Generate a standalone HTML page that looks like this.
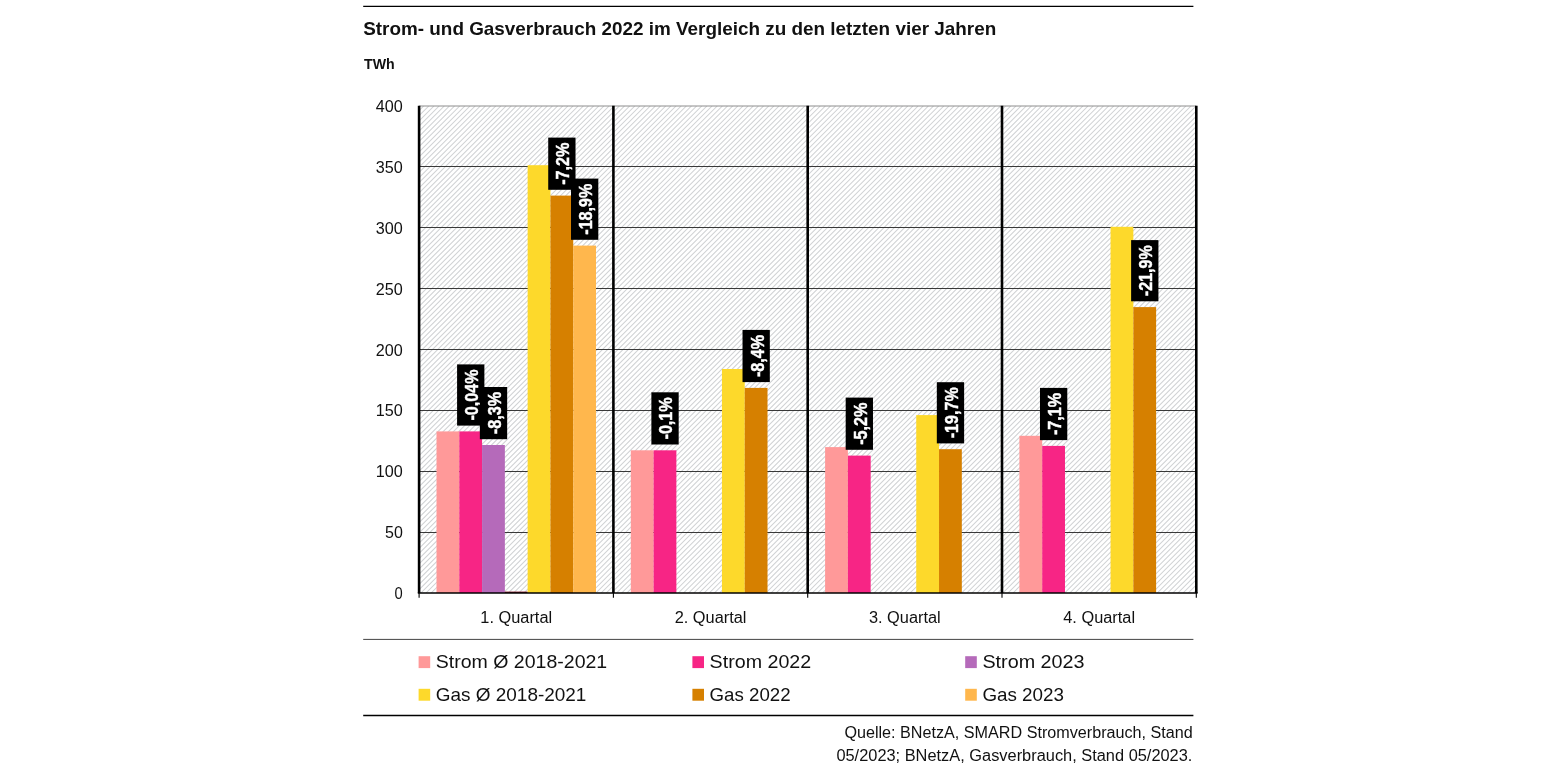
<!DOCTYPE html>
<html lang="de"><head><meta charset="utf-8"><title>Strom- und Gasverbrauch 2022</title>
<style>html,body{margin:0;padding:0;background:#fff;overflow:hidden}body{width:1545px;height:775px}</style></head>
<body>
<svg width="1545" height="775" viewBox="0 0 1545 775" style="display:block">
<rect width="1545" height="775" fill="#fff"/>
<line x1="363.2" y1="6.4" x2="1193.4" y2="6.4" stroke="#000" stroke-width="1.4"/>
<text x="363.2" y="35.3" font-family="Liberation Sans, Arial, sans-serif" font-size="19" font-weight="700" fill="#111" textLength="633" lengthAdjust="spacingAndGlyphs">Strom- und Gasverbrauch 2022 im Vergleich zu den letzten vier Jahren</text>
<text x="364" y="68.9" font-family="Liberation Sans, Arial, sans-serif" font-size="14.2" font-weight="700" fill="#111" textLength="30.7" lengthAdjust="spacingAndGlyphs">TWh</text>
<clipPath id="pc"><rect x="419.1" y="106.0" width="777.2" height="487.0"/></clipPath>
<path clip-path="url(#pc)" d="M-73.60 593.0l487 -487M-68.45 593.0l487 -487M-63.30 593.0l487 -487M-58.15 593.0l487 -487M-53.00 593.0l487 -487M-47.85 593.0l487 -487M-42.70 593.0l487 -487M-37.55 593.0l487 -487M-32.40 593.0l487 -487M-27.25 593.0l487 -487M-22.10 593.0l487 -487M-16.95 593.0l487 -487M-11.80 593.0l487 -487M-6.65 593.0l487 -487M-1.50 593.0l487 -487M3.65 593.0l487 -487M8.80 593.0l487 -487M13.95 593.0l487 -487M19.10 593.0l487 -487M24.25 593.0l487 -487M29.40 593.0l487 -487M34.55 593.0l487 -487M39.70 593.0l487 -487M44.85 593.0l487 -487M50.00 593.0l487 -487M55.15 593.0l487 -487M60.30 593.0l487 -487M65.45 593.0l487 -487M70.60 593.0l487 -487M75.75 593.0l487 -487M80.90 593.0l487 -487M86.05 593.0l487 -487M91.20 593.0l487 -487M96.35 593.0l487 -487M101.50 593.0l487 -487M106.65 593.0l487 -487M111.80 593.0l487 -487M116.95 593.0l487 -487M122.10 593.0l487 -487M127.25 593.0l487 -487M132.40 593.0l487 -487M137.55 593.0l487 -487M142.70 593.0l487 -487M147.85 593.0l487 -487M153.00 593.0l487 -487M158.15 593.0l487 -487M163.30 593.0l487 -487M168.45 593.0l487 -487M173.60 593.0l487 -487M178.75 593.0l487 -487M183.90 593.0l487 -487M189.05 593.0l487 -487M194.20 593.0l487 -487M199.35 593.0l487 -487M204.50 593.0l487 -487M209.65 593.0l487 -487M214.80 593.0l487 -487M219.95 593.0l487 -487M225.10 593.0l487 -487M230.25 593.0l487 -487M235.40 593.0l487 -487M240.55 593.0l487 -487M245.70 593.0l487 -487M250.85 593.0l487 -487M256.00 593.0l487 -487M261.15 593.0l487 -487M266.30 593.0l487 -487M271.45 593.0l487 -487M276.60 593.0l487 -487M281.75 593.0l487 -487M286.90 593.0l487 -487M292.05 593.0l487 -487M297.20 593.0l487 -487M302.35 593.0l487 -487M307.50 593.0l487 -487M312.65 593.0l487 -487M317.80 593.0l487 -487M322.95 593.0l487 -487M328.10 593.0l487 -487M333.25 593.0l487 -487M338.40 593.0l487 -487M343.55 593.0l487 -487M348.70 593.0l487 -487M353.85 593.0l487 -487M359.00 593.0l487 -487M364.15 593.0l487 -487M369.30 593.0l487 -487M374.45 593.0l487 -487M379.60 593.0l487 -487M384.75 593.0l487 -487M389.90 593.0l487 -487M395.05 593.0l487 -487M400.20 593.0l487 -487M405.35 593.0l487 -487M410.50 593.0l487 -487M415.65 593.0l487 -487M420.80 593.0l487 -487M425.95 593.0l487 -487M431.10 593.0l487 -487M436.25 593.0l487 -487M441.40 593.0l487 -487M446.55 593.0l487 -487M451.70 593.0l487 -487M456.85 593.0l487 -487M462.00 593.0l487 -487M467.15 593.0l487 -487M472.30 593.0l487 -487M477.45 593.0l487 -487M482.60 593.0l487 -487M487.75 593.0l487 -487M492.90 593.0l487 -487M498.05 593.0l487 -487M503.20 593.0l487 -487M508.35 593.0l487 -487M513.50 593.0l487 -487M518.65 593.0l487 -487M523.80 593.0l487 -487M528.95 593.0l487 -487M534.10 593.0l487 -487M539.25 593.0l487 -487M544.40 593.0l487 -487M549.55 593.0l487 -487M554.70 593.0l487 -487M559.85 593.0l487 -487M565.00 593.0l487 -487M570.15 593.0l487 -487M575.30 593.0l487 -487M580.45 593.0l487 -487M585.60 593.0l487 -487M590.75 593.0l487 -487M595.90 593.0l487 -487M601.05 593.0l487 -487M606.20 593.0l487 -487M611.35 593.0l487 -487M616.50 593.0l487 -487M621.65 593.0l487 -487M626.80 593.0l487 -487M631.95 593.0l487 -487M637.10 593.0l487 -487M642.25 593.0l487 -487M647.40 593.0l487 -487M652.55 593.0l487 -487M657.70 593.0l487 -487M662.85 593.0l487 -487M668.00 593.0l487 -487M673.15 593.0l487 -487M678.30 593.0l487 -487M683.45 593.0l487 -487M688.60 593.0l487 -487M693.75 593.0l487 -487M698.90 593.0l487 -487M704.05 593.0l487 -487M709.20 593.0l487 -487M714.35 593.0l487 -487M719.50 593.0l487 -487M724.65 593.0l487 -487M729.80 593.0l487 -487M734.95 593.0l487 -487M740.10 593.0l487 -487M745.25 593.0l487 -487M750.40 593.0l487 -487M755.55 593.0l487 -487M760.70 593.0l487 -487M765.85 593.0l487 -487M771.00 593.0l487 -487M776.15 593.0l487 -487M781.30 593.0l487 -487M786.45 593.0l487 -487M791.60 593.0l487 -487M796.75 593.0l487 -487M801.90 593.0l487 -487M807.05 593.0l487 -487M812.20 593.0l487 -487M817.35 593.0l487 -487M822.50 593.0l487 -487M827.65 593.0l487 -487M832.80 593.0l487 -487M837.95 593.0l487 -487M843.10 593.0l487 -487M848.25 593.0l487 -487M853.40 593.0l487 -487M858.55 593.0l487 -487M863.70 593.0l487 -487M868.85 593.0l487 -487M874.00 593.0l487 -487M879.15 593.0l487 -487M884.30 593.0l487 -487M889.45 593.0l487 -487M894.60 593.0l487 -487M899.75 593.0l487 -487M904.90 593.0l487 -487M910.05 593.0l487 -487M915.20 593.0l487 -487M920.35 593.0l487 -487M925.50 593.0l487 -487M930.65 593.0l487 -487M935.80 593.0l487 -487M940.95 593.0l487 -487M946.10 593.0l487 -487M951.25 593.0l487 -487M956.40 593.0l487 -487M961.55 593.0l487 -487M966.70 593.0l487 -487M971.85 593.0l487 -487M977.00 593.0l487 -487M982.15 593.0l487 -487M987.30 593.0l487 -487M992.45 593.0l487 -487M997.60 593.0l487 -487M1002.75 593.0l487 -487M1007.90 593.0l487 -487M1013.05 593.0l487 -487M1018.20 593.0l487 -487M1023.35 593.0l487 -487M1028.50 593.0l487 -487M1033.65 593.0l487 -487M1038.80 593.0l487 -487M1043.95 593.0l487 -487M1049.10 593.0l487 -487M1054.25 593.0l487 -487M1059.40 593.0l487 -487M1064.55 593.0l487 -487M1069.70 593.0l487 -487M1074.85 593.0l487 -487M1080.00 593.0l487 -487M1085.15 593.0l487 -487M1090.30 593.0l487 -487M1095.45 593.0l487 -487M1100.60 593.0l487 -487M1105.75 593.0l487 -487M1110.90 593.0l487 -487M1116.05 593.0l487 -487M1121.20 593.0l487 -487M1126.35 593.0l487 -487M1131.50 593.0l487 -487M1136.65 593.0l487 -487M1141.80 593.0l487 -487M1146.95 593.0l487 -487M1152.10 593.0l487 -487M1157.25 593.0l487 -487M1162.40 593.0l487 -487M1167.55 593.0l487 -487M1172.70 593.0l487 -487M1177.85 593.0l487 -487M1183.00 593.0l487 -487M1188.15 593.0l487 -487M1193.30 593.0l487 -487" stroke="#D0D2D4" stroke-width="1.05" fill="none"/>
<line x1="419.1" y1="106.0" x2="1196.3" y2="106.0" stroke="#8e8e8e" stroke-width="1.1"/>
<line x1="419.1" y1="166.50" x2="1196.3" y2="166.50" stroke="#242424" stroke-width="0.9"/>
<line x1="419.1" y1="227.50" x2="1196.3" y2="227.50" stroke="#242424" stroke-width="0.9"/>
<line x1="419.1" y1="288.50" x2="1196.3" y2="288.50" stroke="#242424" stroke-width="0.9"/>
<line x1="419.1" y1="349.50" x2="1196.3" y2="349.50" stroke="#242424" stroke-width="0.9"/>
<line x1="419.1" y1="410.50" x2="1196.3" y2="410.50" stroke="#242424" stroke-width="0.9"/>
<line x1="419.1" y1="471.50" x2="1196.3" y2="471.50" stroke="#242424" stroke-width="0.9"/>
<line x1="419.1" y1="532.50" x2="1196.3" y2="532.50" stroke="#242424" stroke-width="0.9"/>
<rect x="436.50" y="431.4" width="22.79" height="161.60" fill="#FF9999"/>
<rect x="459.29" y="431.4" width="22.79" height="161.60" fill="#F72585"/>
<rect x="482.07" y="445.0" width="22.79" height="148.00" fill="#B56ABA"/>
<rect x="504.86" y="591.6" width="22.79" height="1.40" fill="#7A1020"/>
<rect x="527.64" y="165.2" width="22.79" height="427.80" fill="#FDD92B"/>
<rect x="550.43" y="195.6" width="22.79" height="397.40" fill="#D68000"/>
<rect x="573.21" y="245.6" width="22.79" height="347.40" fill="#FFB74D"/>
<rect x="630.80" y="450.3" width="22.79" height="142.70" fill="#FF9999"/>
<rect x="653.59" y="450.3" width="22.79" height="142.70" fill="#F72585"/>
<rect x="721.94" y="369.0" width="22.79" height="224.00" fill="#FDD92B"/>
<rect x="744.73" y="387.9" width="22.79" height="205.10" fill="#D68000"/>
<rect x="825.10" y="447.1" width="22.79" height="145.90" fill="#FF9999"/>
<rect x="847.89" y="455.6" width="22.79" height="137.40" fill="#F72585"/>
<rect x="916.24" y="415.1" width="22.79" height="177.90" fill="#FDD92B"/>
<rect x="939.03" y="449.2" width="22.79" height="143.80" fill="#D68000"/>
<rect x="1019.40" y="435.8" width="22.79" height="157.20" fill="#FF9999"/>
<rect x="1042.19" y="445.9" width="22.79" height="147.10" fill="#F72585"/>
<rect x="1110.54" y="226.8" width="22.79" height="366.20" fill="#FDD92B"/>
<rect x="1133.33" y="307.1" width="22.79" height="285.90" fill="#D68000"/>
<rect x="457.08" y="364.40" width="27.3" height="61.2" fill="#000"/>
<text transform="translate(478.08 420.50) rotate(-90)" font-family="Liberation Sans, Arial, sans-serif" font-size="18" font-weight="700" fill="#fff" stroke="#fff" stroke-width="0.45" textLength="51.0" lengthAdjust="spacingAndGlyphs">-0,04%</text>
<rect x="479.86" y="387.00" width="27.3" height="52.2" fill="#000"/>
<text transform="translate(500.86 434.20) rotate(-90)" font-family="Liberation Sans, Arial, sans-serif" font-size="18" font-weight="700" fill="#fff" stroke="#fff" stroke-width="0.45" textLength="42.2" lengthAdjust="spacingAndGlyphs">-8,3%</text>
<rect x="548.22" y="137.60" width="27.3" height="52.2" fill="#000"/>
<text transform="translate(569.22 184.80) rotate(-90)" font-family="Liberation Sans, Arial, sans-serif" font-size="18" font-weight="700" fill="#fff" stroke="#fff" stroke-width="0.45" textLength="42.2" lengthAdjust="spacingAndGlyphs">-7,2%</text>
<rect x="571.01" y="178.60" width="27.3" height="61.2" fill="#000"/>
<text transform="translate(592.01 234.70) rotate(-90)" font-family="Liberation Sans, Arial, sans-serif" font-size="18" font-weight="700" fill="#fff" stroke="#fff" stroke-width="0.45" textLength="51.0" lengthAdjust="spacingAndGlyphs">-18,9%</text>
<rect x="651.38" y="392.30" width="27.3" height="52.2" fill="#000"/>
<text transform="translate(672.38 439.50) rotate(-90)" font-family="Liberation Sans, Arial, sans-serif" font-size="18" font-weight="700" fill="#fff" stroke="#fff" stroke-width="0.45" textLength="42.2" lengthAdjust="spacingAndGlyphs">-0,1%</text>
<rect x="742.52" y="329.90" width="27.3" height="52.2" fill="#000"/>
<text transform="translate(763.52 377.10) rotate(-90)" font-family="Liberation Sans, Arial, sans-serif" font-size="18" font-weight="700" fill="#fff" stroke="#fff" stroke-width="0.45" textLength="42.2" lengthAdjust="spacingAndGlyphs">-8,4%</text>
<rect x="845.68" y="397.60" width="27.3" height="52.2" fill="#000"/>
<text transform="translate(866.68 444.80) rotate(-90)" font-family="Liberation Sans, Arial, sans-serif" font-size="18" font-weight="700" fill="#fff" stroke="#fff" stroke-width="0.45" textLength="42.2" lengthAdjust="spacingAndGlyphs">-5,2%</text>
<rect x="936.82" y="382.20" width="27.3" height="61.2" fill="#000"/>
<text transform="translate(957.82 438.30) rotate(-90)" font-family="Liberation Sans, Arial, sans-serif" font-size="18" font-weight="700" fill="#fff" stroke="#fff" stroke-width="0.45" textLength="51.0" lengthAdjust="spacingAndGlyphs">-19,7%</text>
<rect x="1039.98" y="387.90" width="27.3" height="52.2" fill="#000"/>
<text transform="translate(1060.98 435.10) rotate(-90)" font-family="Liberation Sans, Arial, sans-serif" font-size="18" font-weight="700" fill="#fff" stroke="#fff" stroke-width="0.45" textLength="42.2" lengthAdjust="spacingAndGlyphs">-7,1%</text>
<rect x="1131.12" y="240.10" width="27.3" height="61.2" fill="#000"/>
<text transform="translate(1152.12 296.20) rotate(-90)" font-family="Liberation Sans, Arial, sans-serif" font-size="18" font-weight="700" fill="#fff" stroke="#fff" stroke-width="0.45" textLength="51.0" lengthAdjust="spacingAndGlyphs">-21,9%</text>
<line x1="419.10" y1="105.7" x2="419.10" y2="593.0" stroke="#000" stroke-width="2.6"/>
<line x1="419.10" y1="593.0" x2="419.10" y2="597.8" stroke="#000" stroke-width="1.1"/>
<line x1="613.40" y1="105.7" x2="613.40" y2="593.0" stroke="#000" stroke-width="2.6"/>
<line x1="613.40" y1="593.0" x2="613.40" y2="597.8" stroke="#000" stroke-width="1.1"/>
<line x1="807.70" y1="105.7" x2="807.70" y2="593.0" stroke="#000" stroke-width="2.6"/>
<line x1="807.70" y1="593.0" x2="807.70" y2="597.8" stroke="#000" stroke-width="1.1"/>
<line x1="1002.00" y1="105.7" x2="1002.00" y2="593.0" stroke="#000" stroke-width="2.6"/>
<line x1="1002.00" y1="593.0" x2="1002.00" y2="597.8" stroke="#000" stroke-width="1.1"/>
<line x1="1196.30" y1="105.7" x2="1196.30" y2="593.0" stroke="#000" stroke-width="2.6"/>
<line x1="1196.30" y1="593.0" x2="1196.30" y2="597.8" stroke="#000" stroke-width="1.1"/>
<line x1="417.8" y1="593.0" x2="1197.6" y2="593.0" stroke="#000" stroke-width="1.6"/>
<text x="375.8" y="112.00" font-family="Liberation Sans, Arial, sans-serif" font-size="15.6" fill="#111" textLength="27.0" lengthAdjust="spacingAndGlyphs">400</text>
<text x="375.8" y="172.88" font-family="Liberation Sans, Arial, sans-serif" font-size="15.6" fill="#111" textLength="27.0" lengthAdjust="spacingAndGlyphs">350</text>
<text x="375.8" y="233.75" font-family="Liberation Sans, Arial, sans-serif" font-size="15.6" fill="#111" textLength="27.0" lengthAdjust="spacingAndGlyphs">300</text>
<text x="375.8" y="294.62" font-family="Liberation Sans, Arial, sans-serif" font-size="15.6" fill="#111" textLength="27.0" lengthAdjust="spacingAndGlyphs">250</text>
<text x="375.8" y="355.50" font-family="Liberation Sans, Arial, sans-serif" font-size="15.6" fill="#111" textLength="27.0" lengthAdjust="spacingAndGlyphs">200</text>
<text x="375.8" y="416.38" font-family="Liberation Sans, Arial, sans-serif" font-size="15.6" fill="#111" textLength="27.0" lengthAdjust="spacingAndGlyphs">150</text>
<text x="375.8" y="477.25" font-family="Liberation Sans, Arial, sans-serif" font-size="15.6" fill="#111" textLength="27.0" lengthAdjust="spacingAndGlyphs">100</text>
<text x="385.0" y="538.12" font-family="Liberation Sans, Arial, sans-serif" font-size="15.6" fill="#111" textLength="17.8" lengthAdjust="spacingAndGlyphs">50</text>
<text x="394.6" y="599.00" font-family="Liberation Sans, Arial, sans-serif" font-size="15.6" fill="#111" textLength="8.2" lengthAdjust="spacingAndGlyphs">0</text>
<text x="480.35" y="622.6" font-family="Liberation Sans, Arial, sans-serif" font-size="15.6" fill="#111" textLength="71.8" lengthAdjust="spacingAndGlyphs">1. Quartal</text>
<text x="674.65" y="622.6" font-family="Liberation Sans, Arial, sans-serif" font-size="15.6" fill="#111" textLength="71.8" lengthAdjust="spacingAndGlyphs">2. Quartal</text>
<text x="868.95" y="622.6" font-family="Liberation Sans, Arial, sans-serif" font-size="15.6" fill="#111" textLength="71.8" lengthAdjust="spacingAndGlyphs">3. Quartal</text>
<text x="1063.25" y="622.6" font-family="Liberation Sans, Arial, sans-serif" font-size="15.6" fill="#111" textLength="71.8" lengthAdjust="spacingAndGlyphs">4. Quartal</text>
<line x1="363.2" y1="639.4" x2="1193.4" y2="639.4" stroke="#444" stroke-width="1"/>
<line x1="363.2" y1="715.4" x2="1193.4" y2="715.4" stroke="#000" stroke-width="1.5"/>
<rect x="418.6" y="656.2" width="11.6" height="11.9" fill="#FF9999"/>
<text x="435.8" y="668.1" font-family="Liberation Sans, Arial, sans-serif" font-size="19" fill="#111" textLength="171.4" lengthAdjust="spacingAndGlyphs">Strom Ø 2018-2021</text>
<rect x="692.4" y="656.2" width="11.6" height="11.9" fill="#F72585"/>
<text x="709.6" y="668.1" font-family="Liberation Sans, Arial, sans-serif" font-size="19" fill="#111" textLength="101.6" lengthAdjust="spacingAndGlyphs">Strom 2022</text>
<rect x="965.2" y="656.2" width="11.6" height="11.9" fill="#B56ABA"/>
<text x="982.4" y="668.1" font-family="Liberation Sans, Arial, sans-serif" font-size="19" fill="#111" textLength="102.2" lengthAdjust="spacingAndGlyphs">Strom 2023</text>
<rect x="418.6" y="688.8" width="11.6" height="11.9" fill="#FDD92B"/>
<text x="435.8" y="700.7" font-family="Liberation Sans, Arial, sans-serif" font-size="19" fill="#111" textLength="150.6" lengthAdjust="spacingAndGlyphs">Gas Ø 2018-2021</text>
<rect x="692.4" y="688.8" width="11.6" height="11.9" fill="#D68000"/>
<text x="709.6" y="700.7" font-family="Liberation Sans, Arial, sans-serif" font-size="19" fill="#111" textLength="81.0" lengthAdjust="spacingAndGlyphs">Gas 2022</text>
<rect x="965.2" y="688.8" width="11.6" height="11.9" fill="#FFB74D"/>
<text x="982.4" y="700.7" font-family="Liberation Sans, Arial, sans-serif" font-size="19" fill="#111" textLength="81.6" lengthAdjust="spacingAndGlyphs">Gas 2023</text>
<text x="844.4" y="738.3" font-family="Liberation Sans, Arial, sans-serif" font-size="15.6" fill="#111" textLength="348.4" lengthAdjust="spacingAndGlyphs">Quelle: BNetzA, SMARD Stromverbrauch, Stand</text>
<text x="836.4" y="761.4" font-family="Liberation Sans, Arial, sans-serif" font-size="15.6" fill="#111" textLength="356" lengthAdjust="spacingAndGlyphs">05/2023; BNetzA, Gasverbrauch, Stand 05/2023.</text>
</svg>
</body></html>
